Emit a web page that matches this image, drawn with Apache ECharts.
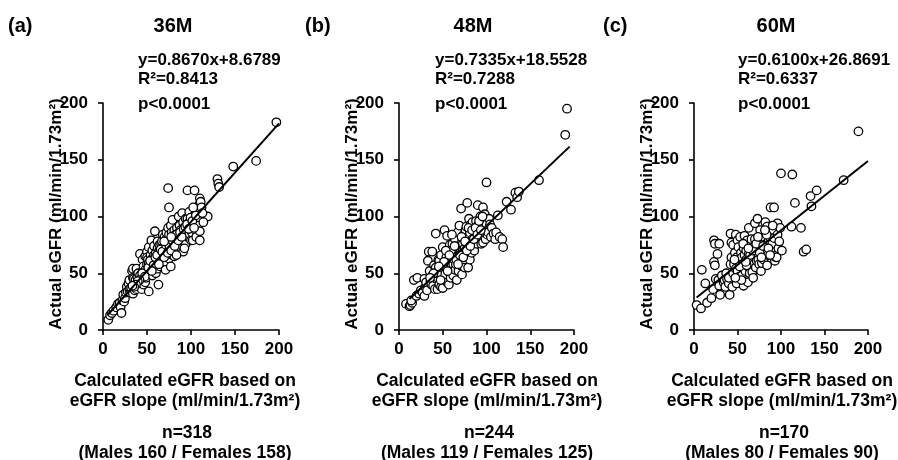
<!DOCTYPE html>
<html>
<head>
<meta charset="utf-8">
<script src="https://cdn.jsdelivr.net/npm/echarts@6/dist/echarts.min.js"></script>
<style>html,body{margin:0;padding:0;background:#fff}#c{width:898px;height:460px}</style>
</head>
<body>
<div id="c"></div>
<script>
// ---------- data ----------
const panelLetters = ['(a)', '(b)', '(c)'];
const panelTitles = ['36M', '48M', '60M'];
const equations = ['y=0.8670x+8.6789', 'y=0.7335x+18.5528', 'y=0.6100x+26.8691'];
const rSquared = ['R²=0.8413', 'R²=0.7288', 'R²=0.6337'];
const pValues = ['p<0.0001', 'p<0.0001', 'p<0.0001'];
const nTexts = ['n=318', 'n=244', 'n=170'];
const sexTexts = ['(Males 160 / Females 158)', '(Males 119 / Females 125)', '(Males 80 / Females 90)'];
const xAxisNameLines = ['Calculated eGFR based on', 'eGFR slope (ml/min/1.73m²)'];
const yAxisName = 'Actual eGFR (ml/min/1.73m²)';
const axisTicks = [0, 50, 100, 150, 200];
const slopes = [0.8670, 0.7335, 0.6100];
const intercepts = [8.6789, 18.5528, 26.8691];
const lineRanges = [[5, 200], [12, 195], [3, 200]];

const panelA = [
[6,9],[8,13],[10,15],[12,17],[15,20],[17,23],[19,24],[20,20],[21,15],[22,26],[23,31],[24,25],[25,28],[26,33],[27,38],[28,34],[29,41],[30,36],[30,44],[31,33],[32,37],[33,52],[34,54],[34,32],[34,46],[35,45],[36,40],[36,35],[37,44],[38,36],[38,54],[39,47],[40,50],[40,42],[41,38],[42,67],[42,48],[43,45],[44,44],[44,36],[45,52],[45,62],[46,56],[46,40],[47,49],[48,53],[48,42],[48,65],[49,46],[50,58],[50,69],[50,64],[51,62],[52,59],[52,34],[52,73],[53,50],[54,57],[54,66],[55,55],[55,79],[56,63],[56,48],[56,70],[57,60],[58,66],[58,52],[58,74],[59,87],[60,62],[60,68],[60,50],[61,58],[62,64],[62,72],[62,54],[62,78],[63,40],[63,68],[64,61],[64,75],[64,70],[65,66],[65,56],[66,70],[66,59],[66,62],[66,76],[67,78],[67,64],[68,72],[68,62],[68,84],[69,67],[70,74],[70,60],[70,82],[71,53],[71,71],[72,69],[72,80],[72,86],[73,64],[73,76],[74,125],[74,72],[74,90],[75,108],[75,63],[75,84],[76,69],[76,78],[77,92],[77,56],[78,74],[78,86],[79,97],[79,66],[80,80],[80,71],[81,65],[81,88],[82,77],[82,84],[83,73],[84,90],[84,80],[85,68],[85,85],[86,100],[86,76],[87,82],[87,92],[88,78],[88,88],[89,72],[90,103],[90,86],[91,95],[91,69],[92,80],[92,90],[93,84],[94,98],[94,76],[95,88],[96,98],[96,123],[96,82],[97,94],[98,104],[98,85],[99,90],[100,79],[100,96],[101,86],[102,79],[103,100],[104,101],[104,123],[104,92],[105,88],[106,94],[106,82],[107,98],[108,97],[108,92],[109,104],[110,116],[110,111],[110,87],[110,79],[111,113],[112,108],[119,100],[130,133],[131,129],[132,126],[148,144],[174,149],[197,183],
[44.5,50],[47.5,47],[51.5,55],[53.5,61],[57.5,57],[59.5,64],[61.5,66],[63.5,58],[65.5,71],[67.5,69],[69.5,64],[71.5,75],[73.5,68],[75.5,74],[77.5,70],[79.5,78],[81.5,74],[83.5,84],[85.5,79],[87.5,86],[89.5,82],[91.5,89],[93.5,91],[95.5,93],[97.5,89],[99.5,99],[101.5,96],[103.5,90],[105.5,101],[41.5,44],[39.5,43],[37.5,40],[35.5,38],[33.5,39],[55.5,52],[69.5,78],[77.5,82],[83.5,66],[92.5,72],[102.5,108],[113,103],[114,95]
];
const panelB = [
[8,23],[12,21],[13,22],[15,24],[14,26],[17,44],[21,46],[20,30],[23,32],[25,35],[27,33],[29,30],[29,45],[30,38],[31,42],[32,35],[33,61],[34,69],[35,52],[36,43],[37,40],[38,69],[38,48],[39,39],[40,57],[41,36],[42,85],[42,55],[43,45],[44,36],[44,46],[45,62],[46,61],[46,40],[47,50],[48,38],[48,66],[49,53],[50,37],[50,73],[51,45],[52,88],[52,49],[53,58],[54,55],[54,64],[55,42],[55,83],[56,70],[56,60],[57,40],[57,51],[58,61],[58,75],[59,64],[59,46],[60,56],[61,68],[61,76],[62,58],[62,48],[63,70],[63,62],[64,80],[64,53],[65,58],[65,66],[66,72],[66,44],[67,65],[67,86],[68,61],[68,52],[69,92],[69,74],[70,68],[70,57],[71,107],[71,63],[72,78],[72,49],[73,70],[73,76],[74,60],[74,84],[75,72],[75,55],[76,66],[76,88],[77,91],[77,64],[78,112],[78,75],[79,55],[79,82],[80,98],[80,70],[81,62],[81,86],[82,77],[82,93],[83,68],[84,95],[84,80],[85,72],[86,70],[86,88],[87,83],[88,82],[88,96],[89,76],[90,110],[90,92],[91,86],[92,80],[93,100],[94,92],[94,76],[95,84],[96,108],[96,77],[97,96],[98,102],[98,88],[99,80],[100,130],[100,93],[101,84],[102,86],[103,98],[104,93],[105,82],[106,90],[108,85],[110,80],[111,86],[113,101],[115,82],[118,80],[119,73],[123,113],[128,106],[133,121],[135,117],[137,122],[160,132],[190,172],[192,195],
[43.5,50],[47.5,44],[51.5,60],[55.5,52],[59.5,70],[63.5,74],[65.5,62],[69.5,66],[71.5,82],[73.5,64],[75.5,78],[77.5,70],[79.5,90],[81.5,74],[83.5,88],[85.5,80],[87.5,90],[89.5,84],[91.5,96],[93.5,88],[60.5,84],[53.5,70],[39.5,50],[35.5,46],[45.5,56],[57.5,66],[67.5,58],[95.5,100]
];
const panelC = [
[3,22],[8,19],[9,53],[13,41],[15,24],[20,28],[22,36],[23,60],[24,57],[23,79],[24,76],[27,67],[29,76],[25,45],[28,44],[30,31],[29,39],[32,48],[34,42],[35,44],[36,38],[37,50],[38,45],[40,41],[40,46],[41,31],[42,58],[42,85],[43,64],[43,77],[44,38],[45,75],[45,50],[46,58],[47,68],[48,84],[48,54],[49,64],[49,41],[50,79],[50,52],[51,73],[51,60],[52,47],[53,82],[53,61],[54,68],[55,64],[55,48],[56,58],[57,39],[57,72],[58,83],[58,66],[59,52],[60,62],[60,70],[61,79],[62,42],[62,56],[63,67],[63,90],[64,50],[65,75],[65,60],[66,62],[66,80],[67,51],[68,73],[68,46],[69,58],[70,94],[70,66],[70,80],[71,55],[72,61],[72,68],[73,98],[74,70],[74,62],[75,58],[76,77],[76,88],[77,52],[78,75],[78,59],[79,66],[80,82],[80,62],[81,70],[82,95],[83,76],[84,91],[84,57],[85,66],[86,79],[87,82],[88,108],[88,88],[89,72],[90,76],[91,88],[92,108],[92,81],[93,61],[94,64],[95,64],[96,94],[96,84],[97,72],[98,78],[99,90],[100,138],[101,70],[113,137],[112,91],[116,112],[123,90],[126,69],[129,71],[134,118],[135,109],[141,123],[172,132],[189,175],
[46.5,62],[52.5,56],[56.5,76],[60.5,57],[64.5,66],[67.5,70],[71.5,76],[75.5,68],[79.5,74],[83.5,84],[85.5,72],[54.5,44],[47.5,46],[59.5,60],[62.5,72],[73.5,82],[77.5,64],[87.5,66],[81.5,88],[90.5,92]
];
const panels = [panelA, panelB, panelC];

// ---------- layout / style ----------
const FONT = '"Liberation Sans", Arial, Helvetica, sans-serif';
const gridLefts = [103, 399, 694];
const gridWidths = [176, 175, 174];
const gridTop = 103, gridHeight = 227;
const letterX = [8, 305, 603];
const titleX = [173, 473, 776];
const eqX = [138, 435, 738];
const yNameX = [56, 352, 647];
const bottomX = [185, 487, 782];

const grids = [], xAxes = [], yAxes = [], series = [], graphics = [];
for (let i = 0; i < 3; i++) {
  grids.push({ left: gridLefts[i], top: gridTop, width: gridWidths[i], height: gridHeight });
  const axisCommon = {
    gridIndex: i, type: 'value', min: axisTicks[0], max: axisTicks[axisTicks.length - 1], interval: axisTicks[1] - axisTicks[0],
    axisLine: { show: true, onZero: false, lineStyle: { color: '#000', width: 1.6 } },
    axisTick: { show: true, inside: false, length: 5, lineStyle: { color: '#000', width: 1.6 } },
    splitLine: { show: false },
    axisLabel: { color: '#000', fontFamily: FONT, fontWeight: 'bold', fontSize: 17 }
  };
  xAxes.push(Object.assign({}, axisCommon, { axisLabel: Object.assign({}, axisCommon.axisLabel, { margin: 11, fontSize: 17 }) }));
  yAxes.push(Object.assign({}, axisCommon, { axisLabel: Object.assign({}, axisCommon.axisLabel, { margin: 15 }) }));
  series.push({
    type: 'scatter', xAxisIndex: i, yAxisIndex: i, data: panels[i], symbol: 'circle', symbolSize: 8.5,
    itemStyle: { color: '#fff', borderColor: '#000', borderWidth: 1.3, opacity: 1 }, z: 2
  });
  const r = lineRanges[i];
  series.push({
    type: 'line', xAxisIndex: i, yAxisIndex: i, showSymbol: false, symbol: 'none',
    data: [[r[0], slopes[i] * r[0] + intercepts[i]], [r[1], slopes[i] * r[1] + intercepts[i]]],
    lineStyle: { color: '#000', width: 2 }, z: 3
  });
  const txt = (x, y, text, size, align, extra) => Object.assign({
    type: 'text', x: x, y: y,
    style: { text: text, fill: '#000', font: 'bold ' + size + 'px ' + FONT, textAlign: align, textVerticalAlign: 'middle' }
  }, extra || {});
  graphics.push(txt(letterX[i], 26, panelLetters[i], 20, 'left'));
  graphics.push(txt(titleX[i], 26, panelTitles[i], 20, 'center'));
  graphics.push(txt(eqX[i], 60, equations[i], 17, 'left'));
  graphics.push(txt(eqX[i], 79, rSquared[i], 17, 'left'));
  graphics.push(txt(eqX[i], 104, pValues[i], 17, 'left'));
  graphics.push(txt(yNameX[i], 214, yAxisName, 17, 'center', { rotation: Math.PI / 2 }));
  graphics.push(txt(bottomX[i], 381, xAxisNameLines[0], 17.5, 'center'));
  graphics.push(txt(bottomX[i], 401, xAxisNameLines[1], 17.5, 'center'));
  graphics.push(txt(bottomX[i] + 2, 433, nTexts[i], 17.5, 'center'));
  graphics.push(txt(bottomX[i], 453, sexTexts[i], 17.5, 'center'));
}

const chart = echarts.init(document.getElementById('c'), null, { renderer: 'canvas' });
chart.setOption({
  backgroundColor: '#fff',
  animation: false,
  grid: grids, xAxis: xAxes, yAxis: yAxes, series: series,
  graphic: graphics
});
</script>
</body>
</html>
